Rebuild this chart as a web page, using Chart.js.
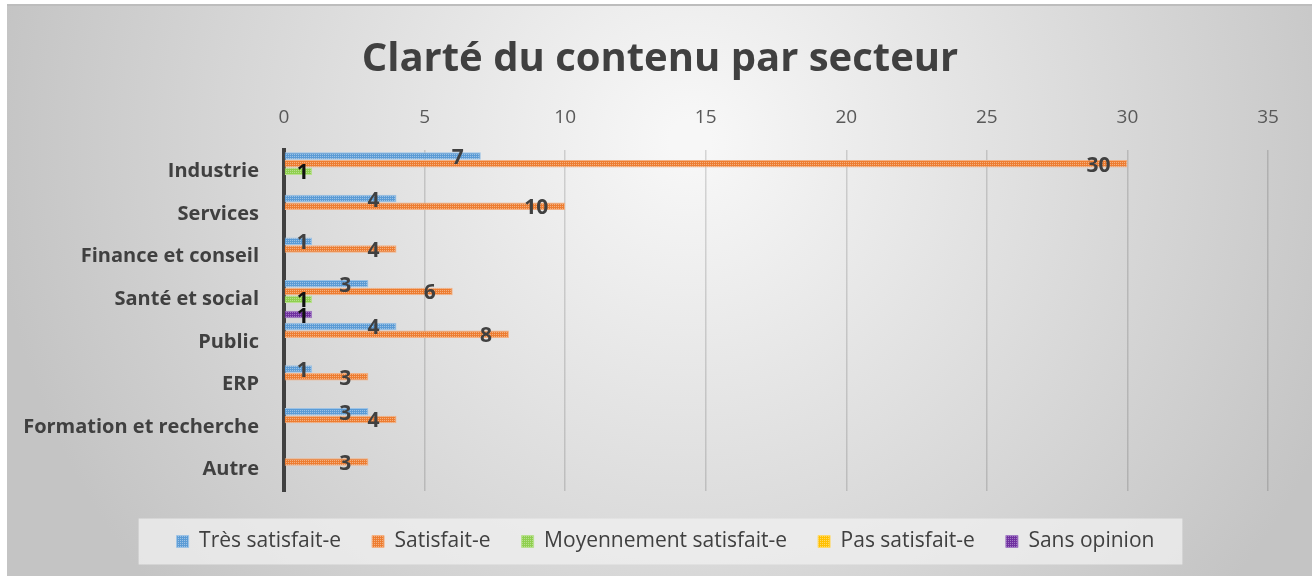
<!DOCTYPE html>
<html>
<head>
<meta charset="utf-8">
<script src="https://cdn.jsdelivr.net/npm/chart.js@4.4.1/dist/chart.umd.min.js"></script>
<style>
  html, body { margin: 0; padding: 0; background: #fff; }
  #wrap { width: 1312px; height: 576px; position: relative; }
</style>
</head>
<body>
<div id="wrap"><canvas id="chart"></canvas></div>
<script>
// DONNEES
const titre = 'Clarté du contenu par secteur';
const secteurs = ['Industrie', 'Services', 'Finance et conseil', 'Santé et social', 'Public', 'ERP', 'Formation et recherche', 'Autre'];
const tresSatisfait = [7, 4, 1, 3, 4, 1, 3, 0];
const satisfait = [30, 10, 4, 6, 8, 3, 4, 3];
const moyennement = [1, 0, 0, 1, 0, 0, 0, 0];
const pasSatisfait = [0, 0, 0, 0, 0, 0, 0, 0];
const sansOpinion = [0, 0, 0, 1, 0, 0, 0, 0];
const xTicks = [0, 5, 10, 15, 20, 25, 30, 35];

const FONT = "'Open Sans', 'DejaVu Sans', sans-serif";
const TXT = '#404040';

// petite trame hachuree comme dans Excel
function trame(base, light) {
    const c = document.createElement('canvas');
    c.width = 4; c.height = 4;
    const g = c.getContext('2d');
    g.fillStyle = base; g.fillRect(0, 0, 4, 4);
    g.fillStyle = light;
    g.fillRect(0, 0, 1, 1); g.fillRect(2, 2, 1, 1);
    g.fillRect(2, 0, 1, 1); g.fillRect(0, 2, 1, 1);
    return g.createPattern(c, 'repeat');
}

function serie(label, data, base, light, labelColor) {
    return {
        label, data,
        backgroundColor: trame(base, light),
        borderColor: light,
        borderWidth: 1,
        labelColor
    };
}

const fond = {
    id: 'fond',
    afterUpdate(chart) {
        // decale la legende un peu vers la droite (centree sur le cadre)
        const lg = chart.legend;
        const dx = 28;
        lg.left += dx; lg.right += dx;
        (lg.legendHitBoxes || []).forEach(h => { h.left += dx; });
    },
    beforeDraw(chart) {
        const ctx = chart.ctx;
        ctx.save();
        ctx.fillStyle = '#fff';
        ctx.fillRect(0, 0, chart.width, chart.height);
        const g = ctx.createRadialGradient(690, 140, 20, 690, 140, 700);
        g.addColorStop(0, '#f7f7f7');
        g.addColorStop(1, '#c4c4c4');
        ctx.fillStyle = g;
        ctx.fillRect(7, 5, chart.width - 7, chart.height - 5);
        ctx.fillStyle = '#bdbdbd';
        ctx.fillRect(7, 4, chart.width - 7, 2);
        // cadre de la legende
        const hb = chart.legend.legendHitBoxes;
        if (hb && hb.length) {
            const last = hb[hb.length - 1];
            const x0 = hb[0].left - 38, x1 = last.left + last.width + 28;
            const yc = hb[0].top + hb[0].height / 2;
            ctx.fillStyle = 'rgba(240,240,240,0.75)';
            ctx.fillRect(x0, yc - 23, x1 - x0, 46);
        }
        // titre
        ctx.font = 'bold 40px ' + FONT;
        ctx.fillStyle = TXT;
        ctx.textAlign = 'center';
        ctx.textBaseline = 'middle';
        ctx.fillText(titre, 660, 60);
        ctx.restore();
    }
};

const etiquettes = {
    id: 'etiquettes',
    afterDatasetsDraw(chart) {
        const ctx = chart.ctx;
        ctx.save();
        ctx.font = 'bold 21px ' + FONT;
        ctx.textAlign = 'center';
        ctx.textBaseline = 'middle';
        chart.data.datasets.forEach((ds, i) => {
            const meta = chart.getDatasetMeta(i);
            meta.data.forEach((bar, j) => {
                const v = ds.data[j];
                if (!v) return;
                const txt = String(v);
                const w = ctx.measureText(txt).width;
                let cx = bar.x - 17 - w / 2;
                cx = Math.max(cx, bar.base + 18);
                ctx.fillStyle = ds.labelColor;
                ctx.fillText(txt, cx, bar.y + 2);
            });
        });
        ctx.restore();
    }
};

new Chart(document.getElementById('chart'), {
    type: 'bar',
    data: {
        labels: secteurs,
        datasets: [
            serie('Très satisfait-e', tresSatisfait, '#5b9bd5', '#9dc3e6', TXT),
            serie('Satisfait-e', satisfait, '#ed7d31', '#f4b183', TXT),
            serie('Moyennement satisfait-e', moyennement, '#8fcf4f', '#b8e08e', '#111'),
            serie('Pas satisfait-e', pasSatisfait, '#ffc000', '#ffd966', '#111'),
            serie('Sans opinion', sansOpinion, '#7030a0', '#a27bc4', '#111')
        ]
    },
    options: {
        indexAxis: 'y',
        responsive: true,
        maintainAspectRatio: false,
        animation: false,
        datasets: { bar: { categoryPercentage: 0.9, barPercentage: 0.98 } },
        layout: { padding: { left: 7, top: 82, right: 44, bottom: 14 } },
        plugins: {
            title: { display: false },
            legend: {
                position: 'bottom',
                title: { display: true, text: ' ', font: { size: 9, lineHeight: 1 }, padding: 0 },
                labels: {
                    color: TXT,
                    font: { family: FONT, size: 21 },
                    boxWidth: 12, boxHeight: 12,
                    padding: 31
                }
            },
            tooltip: { enabled: false }
        },
        scales: {
            x: {
                position: 'top',
                min: 0, max: 35,
                afterBuildTicks: s => { s.ticks = xTicks.map(v => ({ value: v })); },
                afterFit: s => { s.height = 68; },
                ticks: { color: '#595959', font: { family: FONT, size: 19 }, padding: 21 },
                grid: { color: 'rgba(0,0,0,0.14)', lineWidth: 1.5, drawTicks: false },
                border: { display: false }
            },
            y: {
                afterFit: s => { s.width = 277; },
                ticks: { color: TXT, font: { family: FONT, size: 20, weight: 'bold' }, padding: 25 },
                grid: { display: false, drawTicks: false },
                border: { color: '#404040', width: 4 }
            }
        }
    },
    plugins: [fond, etiquettes]
});
</script>
</body>
</html>
